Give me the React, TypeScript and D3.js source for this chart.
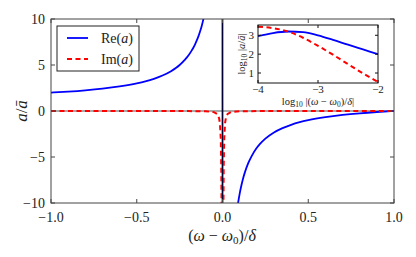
import * as React from 'react';
import * as d3 from 'd3';

// main panel: (w - w0)/delta vs a/abar
const xs = [-1, -0.9, -0.8, -0.7, -0.6, -0.5, -0.45, -0.4, -0.35, -0.3, -0.27, -0.25, -0.22, -0.2, -0.18, -0.17, -0.16, -0.15, -0.14, -0.13, -0.12, -0.11, -0.1, -0.08, -0.05, -0.02, -0.005, 0.005, 0.02, 0.05, 0.07, 0.08, 0.09, 0.1, 0.11, 0.12, 0.13, 0.15, 0.17, 0.2, 0.22, 0.25, 0.3, 0.35, 0.4, 0.45, 0.5, 0.6, 0.7, 0.8, 0.9, 1.0];
const reA = [2.0, 2.11, 2.25, 2.43, 2.67, 3.0, 3.22, 3.5, 3.86, 4.33, 4.7, 5.0, 5.55, 6.0, 6.56, 6.88, 7.25, 7.67, 8.14, 8.69, 9.33, 10.1, 11, 13.5, 21, 51, 201, -199, -49, -19, -13.3, -11.5, -10.1, -9.0, -8.1, -7.33, -6.7, -5.67, -4.9, -4.0, -3.55, -3.0, -2.33, -1.86, -1.5, -1.22, -1.0, -0.67, -0.43, -0.25, -0.11, 0];

const xsIm = [-1, -0.5, -0.2, -0.1, -0.05, -0.03, -0.02, -0.015, -0.01, -0.007, -0.005, 0, 0.005, 0.007, 0.01, 0.015, 0.02, 0.03, 0.05, 0.1, 0.2, 0.5, 1];
const imA = [0, 0, -0.01, -0.03, -0.12, -0.34, -0.77, -1.35, -3.0, -6.2, -12, -3000, -12, -6.1, -3.0, -1.3, -0.73, -0.32, -0.11, -0.03, -0.01, 0, 0];

const xTicks = [-1, -0.5, 0, 0.5, 1];
const yTicks = [-10, -5, 0, 5, 10];

// inset: log10|(w - w0)/delta| vs log10|a/abar|
const logX = [-4, -3.75, -3.5, -3.25, -3, -2.75, -2.5, -2.25, -2];
const logRe = [2.95, 3.12, 3.2, 3.17, 3.0, 2.76, 2.5, 2.25, 2.0];
const logIm = [3.45, 3.38, 3.2, 2.87, 2.44, 1.97, 1.47, 0.98, 0.52];
const inXTicks = [-4, -3, -2];
const inYTicks = [1, 2, 3];

const BLUE = '#0000ff';
const RED = '#ff0000';
const FRAME = '#444';
const FONT = '"Liberation Serif", "DejaVu Serif", serif';

const fmt = (v: number, d: number) => (v < 0 ? '\u2212' : '') + Math.abs(v).toFixed(d);

export default function App() {
  const x = d3.scaleLinear().domain([-1, 1]).range([51, 394]);
  const y = d3.scaleLinear().domain([-10, 10]).range([203, 19]);
  const ix = d3.scaleLinear().domain([-4, -2]).range([258, 378]);
  const iy = d3.scaleLinear().domain([0.47, 3.546]).range([83, 25]);

  const reLine = d3.line<number>().x((_, i) => x(xs[i])).y((d) => y(d)).curve(d3.curveMonotoneX)(reA) || '';
  const imLine = d3.line<number>().x((_, i) => x(xsIm[i])).y((d) => y(d))(imA) || '';
  const inRe = d3.line<number>().x((_, i) => ix(logX[i])).y((d) => iy(d)).curve(d3.curveMonotoneX)(logRe) || '';
  const inIm = d3.line<number>().x((_, i) => ix(logX[i])).y((d) => iy(d)).curve(d3.curveMonotoneX)(logIm) || '';

  const [x0, x1] = x.range();
  const [y1, y0] = y.range();
  const [ix0, ix1] = ix.range();
  const [iy1, iy0] = iy.range();

  return (
    <svg width={416} height={257} style={{ position: 'absolute', left: 0, top: 0, background: '#fff' }} fontFamily={FONT}>
      <defs>
        <clipPath id="main-area">
          <rect x={x0} y={y0} width={x1 - x0} height={y1 - y0} />
        </clipPath>
        <clipPath id="inset-area">
          <rect x={ix0} y={iy0} width={ix1 - ix0} height={iy1 - iy0} />
        </clipPath>
      </defs>

      {/* main curves */}
      <g clipPath="url(#main-area)">
        <line x1={x0} x2={x1} y1={y(0)} y2={y(0)} stroke="#555" strokeWidth={1} />
        <path d={reLine} fill="none" stroke={BLUE} strokeWidth={1.8} />
        <path d={imLine} fill="none" stroke={RED} strokeWidth={2} strokeDasharray="5,3.5" />
        <line x1={x(0)} x2={x(0)} y1={y0} y2={y1} stroke="#000033" strokeWidth={1} />
      </g>

      {/* main frame and ticks */}
      <rect x={x0} y={y0} width={x1 - x0} height={y1 - y0} fill="none" stroke={FRAME} strokeWidth={1} />
      {xTicks.map((t) => (
        <g key={'xt' + t}>
          <line x1={x(t)} x2={x(t)} y1={y1} y2={y1 - 4} stroke={FRAME} />
          <line x1={x(t)} x2={x(t)} y1={y0} y2={y0 + 4} stroke={FRAME} />
          <text x={x(t)} y={222} fontSize={14} textAnchor="middle" fill="#222">{fmt(t, 1)}</text>
        </g>
      ))}
      {yTicks.map((t) => (
        <g key={'yt' + t}>
          <line x1={x0} x2={x0 + 4} y1={y(t)} y2={y(t)} stroke={FRAME} />
          <line x1={x1} x2={x1 - 4} y1={y(t)} y2={y(t)} stroke={FRAME} />
          <text x={45} y={y(t) + 5} fontSize={14} textAnchor="end" fill="#222">{fmt(t, 0)}</text>
        </g>
      ))}
      <text x={222} y={241} fontSize={16} textAnchor="middle" fill="#222">
        (<tspan fontStyle="italic">ω</tspan> − <tspan fontStyle="italic">ω</tspan>
        <tspan fontSize={11} dy={3}>0</tspan>
        <tspan dy={-3}>)/</tspan>
        <tspan fontStyle="italic">δ</tspan>
      </text>
      <text transform="translate(27,111) rotate(-90)" fontSize={17} textAnchor="middle" fill="#222">
        <tspan fontStyle="italic">a</tspan>/<tspan fontStyle="italic">ā</tspan>
      </text>

      {/* legend */}
      <rect x={57} y={26} width={82} height={45} fill="#fff" stroke="#222" strokeWidth={1} />
      <line x1={67} x2={88} y1={38} y2={38} stroke={BLUE} strokeWidth={1.8} />
      <line x1={67} x2={88} y1={59} y2={59} stroke={RED} strokeWidth={2} strokeDasharray="5,3.5" />
      <text x={101} y={43} fontSize={14} fill="#222">Re(<tspan fontStyle="italic">a</tspan>)</text>
      <text x={101} y={64} fontSize={14} fill="#222">Im(<tspan fontStyle="italic">a</tspan>)</text>

      {/* inset */}
      <rect x={ix0} y={iy0} width={ix1 - ix0} height={iy1 - iy0} fill="#fff" />
      <g clipPath="url(#inset-area)">
        <path d={inRe} fill="none" stroke={BLUE} strokeWidth={1.8} />
        <path d={inIm} fill="none" stroke={RED} strokeWidth={2} strokeDasharray="5,3.5" />
      </g>
      <rect x={ix0} y={iy0} width={ix1 - ix0} height={iy1 - iy0} fill="none" stroke="#111" strokeWidth={1} />
      {inXTicks.map((t) => (
        <g key={'ixt' + t}>
          <line x1={ix(t)} x2={ix(t)} y1={iy1} y2={iy1 - 3} stroke="#111" />
          <line x1={ix(t)} x2={ix(t)} y1={iy0} y2={iy0 + 3} stroke="#111" />
          <text x={ix(t)} y={93} fontSize={11} textAnchor="middle" fill="#222">{fmt(t, 0)}</text>
        </g>
      ))}
      {inYTicks.map((t) => (
        <g key={'iyt' + t}>
          <line x1={ix0} x2={ix0 + 3} y1={iy(t)} y2={iy(t)} stroke="#111" />
          <line x1={ix1} x2={ix1 - 3} y1={iy(t)} y2={iy(t)} stroke="#111" />
          <text x={254} y={iy(t) + 4} fontSize={11} textAnchor="end" fill="#222">{t}</text>
        </g>
      ))}
      <text x={318} y={105} fontSize={10.5} textAnchor="middle" fill="#222">
        log<tspan fontSize={7.5} dy={2}>10</tspan>
        <tspan dy={-2}> |(</tspan>
        <tspan fontStyle="italic">ω</tspan> − <tspan fontStyle="italic">ω</tspan>
        <tspan fontSize={7.5} dy={2}>0</tspan>
        <tspan dy={-2}>)/</tspan>
        <tspan fontStyle="italic">δ</tspan>|
      </text>
      <text transform="translate(245,54) rotate(-90)" fontSize={10.5} textAnchor="middle" fill="#222">
        log<tspan fontSize={7.5} dy={2}>10</tspan>
        <tspan dy={-2}> |</tspan>
        <tspan fontStyle="italic">a</tspan>/<tspan fontStyle="italic">ā</tspan>|
      </text>
    </svg>
  );
}
